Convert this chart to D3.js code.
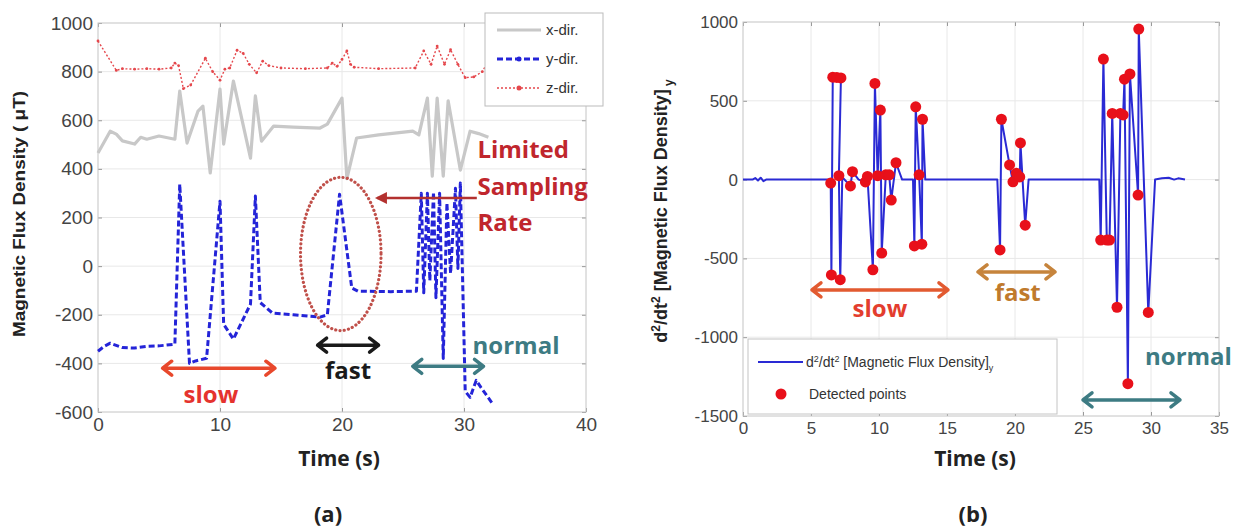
<!DOCTYPE html>
<html>
<head>
<meta charset="utf-8">
<script src="https://cdn.jsdelivr.net/npm/d3@7"></script>
<style>
    body { margin: 0; background: #fff; }
    text { font-family: "Liberation Sans", Arial, sans-serif; }
    .bold { font-family: "Open Sans", sans-serif; font-weight: 700; }
</style>
</head>
<body>
<svg id="chart" width="1244" height="531"></svg>
<script>
// ---- panel (a): magnetic flux density, three directions ----
const xDirT = [0, 1.0, 1.5, 2.0, 3.0, 3.5, 4.0, 5.0, 6.3, 6.7, 7.3, 8.2, 8.6, 9.2, 10.0, 10.3, 11.1, 12.5, 12.9, 13.4, 14.4, 16, 18.2, 18.8, 20.0, 20.4, 21.2, 23, 25.8, 26.3, 27.0, 27.4, 27.8, 28.3, 28.7, 29.7, 30.5, 31.2, 32.0];
const xDirV = [465, 555, 543, 515, 502, 530, 522, 535, 522, 720, 506, 638, 658, 383, 728, 502, 761, 444, 700, 514, 576, 572, 568, 584, 691, 360, 527, 540, 555, 540, 691, 370, 691, 370, 680, 395, 555, 545, 530];

const yDirT = [0, 0.5, 1.0, 2.0, 3.0, 4.0, 5.0, 6.3, 6.7, 7.5, 8.0, 8.9, 10.0, 10.3, 11.1, 12.5, 12.9, 13.3, 14.3, 16, 18.2, 18.8, 19.8, 20.8, 21.3, 24, 26.1, 26.5, 26.7, 27.0, 27.2, 27.5, 27.7, 28.0, 28.3, 28.6, 28.9, 29.3, 29.5, 29.7, 30.1, 30.5, 31.0, 31.4, 32.4];
const yDirV = [-350, -330, -317, -335, -337, -330, -328, -321, 337, -400, -390, -379, 267, -239, -300, -156, 288, -150, -193, -200, -210, -200, 296, -90, -103, -105, -103, 300, -110, 300, -60, 305, -130, 300, -380, 260, -30, 320, -10, 342, -515, -540, -470, -500, -570];

const zDirT = [0, 1.5, 2, 3, 4, 5, 6.0, 6.3, 6.6, 7.0, 7.6, 8.8, 9.4, 10.0, 10.4, 10.8, 11.4, 11.9, 12.4, 13.0, 13.5, 14, 15, 17, 18.8, 19.2, 19.6, 20.0, 20.4, 20.7, 21, 23, 26.0, 26.7, 27.3, 27.8, 28.4, 28.9, 29.5, 30.1, 30.8, 31.5, 32.3];
const zDirV = [926, 805, 812, 810, 812, 810, 815, 835, 825, 730, 745, 855, 800, 765, 810, 815, 888, 875, 830, 795, 843, 825, 815, 812, 815, 835, 822, 850, 885, 830, 818, 812, 815, 885, 830, 905, 830, 890, 830, 775, 778, 800, 870];

const ticksAx = [0, 10, 20, 30, 40];
const ticksAy = [-600, -400, -200, 0, 200, 400, 600, 800, 1000];
const legendA = ["x-dir.", "y-dir.", "z-dir."];

// ---- panel (b): second derivative of y-direction ----
const d2T = [0, 0.7, 0.9, 1.1, 1.3, 1.5, 1.7, 6.3, 6.45, 6.5, 6.6, 6.9, 7.2, 7.05, 7.15, 7.3, 7.9, 8.05, 8.5, 9.0, 9.15, 9.55, 9.7, 9.9, 10.1, 10.2, 10.5, 10.75, 10.9, 11.25, 11.7, 12.5, 12.6, 12.7, 12.95, 13.15, 13.2, 13.4, 18.7, 18.9, 19.0, 19.6, 19.85, 20.1, 20.35, 20.4, 20.75, 21.0, 26.2, 26.3, 26.5, 26.75, 26.95, 27.15, 27.5, 27.75, 27.95, 28.05, 28.3, 28.45, 29.05, 29.1, 29.8, 30.3, 30.8, 31.3, 31.7, 32.0, 32.5];
const d2V = [0, 0, 10, -6, 12, -10, 0, 0, -22, -605, 650, 648, 645, 25, -635, 15, -40, 50, 0, -15, 20, -572, 610, 25, 441, -466, 30, 30, -130, 107, 0, 0, -421, 462, 30, -410, 383, 0, 0, -446, 383, 93, -14, 41, 17, 233, -289, 0, 0, -384, 765, -384, -384, 420, -810, 420, 410, 637, -1295, 670, -98, 955, -843, 0, 8, 12, 0, 8, 0];

const detT = [6.45, 6.5, 6.6, 6.9, 7.2, 7.05, 7.15, 7.9, 8.05, 9.0, 9.15, 9.55, 9.7, 9.9, 10.1, 10.2, 10.5, 10.75, 10.9, 11.25, 12.6, 12.7, 12.95, 13.15, 13.2, 18.9, 19.0, 19.6, 19.85, 20.1, 20.35, 20.4, 20.75, 26.3, 26.5, 26.75, 26.95, 27.15, 27.5, 27.75, 27.95, 28.05, 28.3, 28.45, 29.05, 29.1, 29.8];
const detV = [-22, -605, 650, 648, 645, 25, -635, -40, 50, -15, 20, -572, 610, 25, 441, -466, 30, 30, -130, 107, -421, 462, 30, -410, 383, -446, 383, 93, -14, 41, 17, 233, -289, -384, 765, -384, -384, 420, -810, 420, 410, 637, -1295, 670, -98, 955, -843];

const ticksBx = [0, 5, 10, 15, 20, 25, 30, 35];
const ticksBy = [-1500, -1000, -500, 0, 500, 1000];

const svg = d3.select("#chart");

// scales
const xA = d3.scaleLinear().domain([0, 40]).range([98, 586]);
const yA = d3.scaleLinear().domain([-600, 1000]).range([412, 23]);
const xB = d3.scaleLinear().domain([0, 35]).range([743, 1219]);
const yB = d3.scaleLinear().domain([-1500, 1000]).range([416, 22]);

// Draw a MATLAB-style box with grid, inner ticks and labels
function drawFrame(x, y, tx, ty, fontSize) {
    const g = svg.append("g");
    const [x0, x1] = x.range();
    const [y0, y1] = y.range();
    const fmt = (d) => String(d); // plain hyphen, no thousands separator

    g.selectAll(".gx").data(tx.slice(1, -1)).enter().append("line")
        .attr("x1", (d) => x(d)).attr("x2", (d) => x(d))
        .attr("y1", y0).attr("y2", y1)
        .attr("stroke", "#e8e8e8").attr("stroke-width", 1);
    g.selectAll(".gy").data(ty.slice(1, -1)).enter().append("line")
        .attr("x1", x0).attr("x2", x1)
        .attr("y1", (d) => y(d)).attr("y2", (d) => y(d))
        .attr("stroke", "#e8e8e8").attr("stroke-width", 1);

    g.append("g").attr("transform", `translate(0,${y0})`)
        .call(d3.axisBottom(x).tickValues(tx).tickSize(-4).tickPadding(6).tickFormat(fmt));
    g.append("g").attr("transform", `translate(${x0},0)`)
        .call(d3.axisLeft(y).tickValues(ty).tickSize(-4).tickPadding(5).tickFormat(fmt));
    g.append("g").attr("transform", `translate(0,${y1})`)
        .call(d3.axisTop(x).tickValues(tx).tickSize(-4).tickFormat(""));
    g.append("g").attr("transform", `translate(${x1},0)`)
        .call(d3.axisRight(y).tickValues(ty).tickSize(-4).tickFormat(""));

    g.selectAll(".domain").remove();
    g.selectAll(".tick line").attr("stroke", "#999");
    g.selectAll(".tick text")
        .style("font-family", "'Liberation Sans', Arial, sans-serif")
        .style("font-size", fontSize + "px")
        .attr("fill", "#444");

    g.append("rect")
        .attr("x", x0).attr("y", y1)
        .attr("width", x1 - x0).attr("height", y0 - y1)
        .attr("fill", "none").attr("stroke", "#c4c4c4").attr("stroke-width", 1);
}

// double-headed arrow with open chevron heads
function doubleArrow(x1, x2, y, color) {
    const h = 9, w = 7;
    svg.append("path")
        .attr("d", `M${x1},${y}L${x2},${y}M${x1 + h},${y - w}L${x1},${y}L${x1 + h},${y + w}M${x2 - h},${y - w}L${x2},${y}L${x2 - h},${y + w}`)
        .attr("fill", "none").attr("stroke", color)
        .attr("stroke-width", 3.5).attr("stroke-linejoin", "round").attr("stroke-linecap", "round");
}

function label(x, y, txt, color, size, anchor) {
    return svg.append("text").attr("class", "bold")
        .attr("x", x).attr("y", y)
        .attr("text-anchor", anchor || "middle")
        .attr("fill", color).style("font-size", size + "px")
        .text(txt);
}

// ================= panel (a) =================
drawFrame(xA, yA, ticksAx, ticksAy, 19);

const lineA = (T, V) => d3.line().x((d, i) => xA(T[i])).y((d, i) => yA(V[i]))(T);

svg.append("path").attr("d", lineA(xDirT, xDirV))
    .attr("fill", "none").attr("stroke", "#c8c8c8").attr("stroke-width", 3.2)
    .attr("stroke-linejoin", "round");

svg.append("path").attr("d", lineA(zDirT, zDirV))
    .attr("fill", "none").attr("stroke", "#e5474c").attr("stroke-width", 1.4)
    .attr("stroke-dasharray", "2,2");
svg.append("g").selectAll("circle").data(zDirT).enter().append("circle")
    .attr("cx", (d) => xA(d)).attr("cy", (d, i) => yA(zDirV[i]))
    .attr("r", 1.4).attr("fill", "#e5474c");

svg.append("path").attr("d", lineA(yDirT, yDirV))
    .attr("fill", "none").attr("stroke", "#2424d8").attr("stroke-width", 3)
    .attr("stroke-dasharray", "6,3").attr("stroke-linejoin", "round");

// dotted ellipse around the "fast" peak
svg.append("ellipse")
    .attr("cx", xA(19.9)).attr("cy", yA(50))
    .attr("rx", xA(3.3) - xA(0)).attr("ry", yA(0) - yA(315))
    .attr("fill", "none").attr("stroke", "#c0504a").attr("stroke-width", 3.2)
    .attr("stroke-dasharray", "0.1,4.2").attr("stroke-linecap", "round");

// "Limited Sampling Rate" arrow
const arrY = yA(280);
svg.append("line")
    .attr("x1", xA(31.05)).attr("x2", xA(22.9)).attr("y1", arrY).attr("y2", arrY)
    .attr("stroke", "#b3312f").attr("stroke-width", 2.5);
svg.append("path")
    .attr("d", `M${xA(22.7)},${arrY}l12,-6l0,12z`)
    .attr("fill", "#b3312f");
["Limited", "Sampling", "Rate"].forEach((t, i) => {
    label(xA(31.1), yA(444) + i * 36.5, t, "#c0262d", 24, "start");
});

// legend (a)
const legA = svg.append("g");
legA.append("rect").attr("x", 485).attr("y", 13).attr("width", 118).attr("height", 93)
    .attr("fill", "#fff").attr("stroke", "#bbb");
const legStyles = [
    { stroke: "#c8c8c8", width: 3.2, dash: null, dot: null },
    { stroke: "#2424d8", width: 3, dash: "6,3", dot: "#2424d8" },
    { stroke: "#e5474c", width: 1.4, dash: "2,2", dot: "#e5474c" },
];
legendA.forEach((name, i) => {
    const yy = 30 + i * 29;
    const s = legStyles[i];
    legA.append("line").attr("x1", 497).attr("x2", 541).attr("y1", yy).attr("y2", yy)
        .attr("stroke", s.stroke).attr("stroke-width", s.width)
        .attr("stroke-dasharray", s.dash);
    if (s.dot) legA.append("circle").attr("cx", 519).attr("cy", yy).attr("r", 2.5).attr("fill", s.dot);
    legA.append("text").attr("x", 546).attr("y", yy + 5)
        .style("font-size", "15px").attr("fill", "#333").text(name);
});

// annotations (a)
doubleArrow(xA(5.3), xA(14.5), yA(-420), "#e8482c");
label(xA(9.25), yA(-564), "slow", "#e5332e", 24);
doubleArrow(xA(18.0), xA(23.0), yA(-325), "#1a1a1a");
label(xA(20.5), yA(-465), "fast", "#1a1a1a", 24);
doubleArrow(xA(25.8), xA(31.6), yA(-412), "#3d7b83");
label(xA(30.7), yA(-362), "normal", "#3d7b83", 24, "start");

// axis titles (a)
svg.append("text")
    .attr("transform", `translate(25,214) rotate(-90)`)
    .attr("text-anchor", "middle")
    .attr("textLength", 246).attr("lengthAdjust", "spacingAndGlyphs")
    .style("font-size", "17px").style("font-weight", "700").attr("fill", "#222")
    .text("Magnetic Flux Density ( μT)");
label(339, 466, "Time (s)", "#222", 21);
label(328, 522, "(a)", "#222", 22);

// ================= panel (b) =================
drawFrame(xB, yB, ticksBx, ticksBy, 17);

const lineB = d3.line().x((d, i) => xB(d2T[i])).y((d, i) => yB(d2V[i]));
svg.append("path").attr("d", lineB(d2T))
    .attr("fill", "none").attr("stroke", "#2a2ad4").attr("stroke-width", 2)
    .attr("stroke-linejoin", "round");

svg.append("g").selectAll("circle").data(detT).enter().append("circle")
    .attr("cx", (d) => xB(d)).attr("cy", (d, i) => yB(detV[i]))
    .attr("r", 5.5).attr("fill", "#e8101a");

// annotations (b)
doubleArrow(xB(5.07), xB(15.07), yB(-700), "#e25a30");
label(xB(10.07), yB(-872), "slow", "#e33d2e", 24);
doubleArrow(xB(17.28), xB(22.94), yB(-586), "#c6843c");
label(xB(20.2), yB(-768), "fast", "#c07a2c", 24);
doubleArrow(xB(25.0), xB(32.13), yB(-1398), "#3d7b83");
label(xB(29.56), yB(-1176), "normal", "#3d7b83", 24, "start");

// legend (b)
const legB = svg.append("g");
legB.append("rect").attr("x", 748).attr("y", 339).attr("width", 309).attr("height", 75)
    .attr("fill", "#fff").attr("stroke", "#c4c4c4");
legB.append("line").attr("x1", 758).attr("x2", 803).attr("y1", 362).attr("y2", 362)
    .attr("stroke", "#2a2ad4").attr("stroke-width", 2);
const lt = legB.append("text").attr("x", 806).attr("y", 367)
    .style("font-size", "14px").attr("fill", "#333");
lt.append("tspan").text("d");
lt.append("tspan").attr("dy", -5).style("font-size", "9px").text("2");
lt.append("tspan").attr("dy", 5).text("/dt");
lt.append("tspan").attr("dy", -5).style("font-size", "9px").text("2");
lt.append("tspan").attr("dy", 5).text(" [Magnetic Flux Density]");
lt.append("tspan").attr("dy", 4).style("font-size", "9px").text("y");
legB.append("circle").attr("cx", 781).attr("cy", 394).attr("r", 5.5).attr("fill", "#e8101a");
legB.append("text").attr("x", 809).attr("y", 399)
    .style("font-size", "14px").attr("fill", "#333").text("Detected points");

// axis titles (b)
const yt = svg.append("text")
    .attr("transform", `translate(667,211) rotate(-90)`)
    .attr("text-anchor", "middle")
    .style("font-size", "18px").style("font-weight", "700").attr("fill", "#222");
yt.append("tspan").text("d");
yt.append("tspan").attr("dy", -7).style("font-size", "12px").text("2");
yt.append("tspan").attr("dy", 7).text("/dt");
yt.append("tspan").attr("dy", -7).style("font-size", "12px").text("2");
yt.append("tspan").attr("dy", 7).text(" [Magnetic Flux Density]");
yt.append("tspan").attr("dy", 6).style("font-size", "12px").text(" y");
label(975, 466, "Time (s)", "#222", 21);
label(973, 522, "(b)", "#222", 22);
</script>
</body>
</html>
